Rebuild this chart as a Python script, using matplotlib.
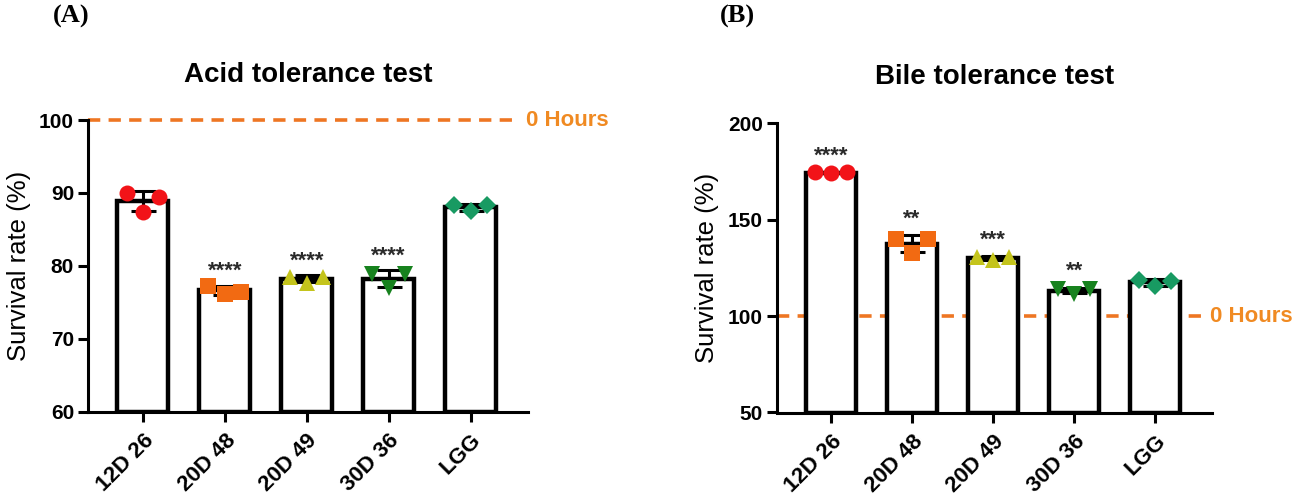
import matplotlib
matplotlib.use("Agg")
import matplotlib.pyplot as plt
import numpy as np

plt.rcParams['font.family'] = ['Liberation Sans', 'DejaVu Sans']

categories = ["12D 26", "20D 48", "20D 49", "30D 36", "LGG"]

acid_points = [
    [90.0, 87.4, 89.4],
    [77.3, 76.2, 76.4],
    [78.5, 77.7, 78.5],
    [78.9, 76.9, 78.9],
    [88.3, 87.5, 88.3],
]
acid_stars = ["", "****", "****", "****", ""]

bile_points = [
    [174.5, 174.0, 174.5],
    [140.2, 132.6, 139.8],
    [130.8, 129.2, 130.6],
    [114.2, 111.6, 114.0],
    [118.6, 115.5, 118.3],
]
bile_stars = ["****", "**", "***", "**", ""]

marker_colors = ["#F21318", "#F26A12", "#C4C41C", "#17821E", "#189A62"]
marker_shapes = ["o", "s", "^", "v", "D"]
marker_sizes = [11.5, 11, 11.5, 11.5, 9.5]
line_color = "#EE7623"
text_color = "#F08A22"

W, H = 1313, 498
fig = plt.figure(figsize=(W / 100, H / 100), dpi=100)


def make_panel(rect, points, stars, ylim, yticks, title, letter, letter_xy,
               star_offset, title_pad):
    ax = fig.add_axes(rect)
    x = np.arange(len(categories))
    means = [np.mean(p) for p in points]
    sds = [np.std(p, ddof=1) for p in points]
    ax.bar(x, [m - ylim[0] for m in means], bottom=ylim[0], width=0.62,
           color="white", edgecolor="black", linewidth=3.2, zorder=2)
    ax.errorbar(x, means, yerr=sds, fmt="none", ecolor="black",
                elinewidth=2.2, capsize=9, capthick=2.2, zorder=3)
    offs = [-0.2, 0.0, 0.2]
    for i, p in enumerate(points):
        ax.plot(x[i] + np.array(offs), p, linestyle="none",
                marker=marker_shapes[i], markersize=marker_sizes[i],
                color=marker_colors[i], markeredgewidth=0, zorder=4,
                clip_on=False)
        if stars[i]:
            top = max(max(p), means[i] + sds[i])
            ax.text(x[i], top + star_offset, stars[i], ha="center",
                    va="bottom", fontsize=16, fontweight="bold",
                    color="#2a2a2a", zorder=5)
    # 0 hours reference line
    ax.plot([-0.67, 4.56], [100, 100], color=line_color, linewidth=2.6,
            dashes=(3.4, 2.3), zorder=1, clip_on=False)
    ax.text(4.67, 100, "0 Hours", color=text_color, fontsize=16,
            fontweight="bold", ha="left", va="center", clip_on=False)
    ax.set_xlim(-0.67, 4.7)
    ax.set_ylim(*ylim)
    ax.set_yticks(yticks)
    ax.set_yticklabels([str(t) for t in yticks], fontsize=15,
                       fontweight="bold")
    ax.set_xticks(x)
    ax.set_xticklabels(categories, rotation=45, ha="right",
                       rotation_mode="anchor", fontsize=16, fontweight="bold")
    ax.spines["top"].set_visible(False)
    ax.spines["right"].set_visible(False)
    ax.spines["left"].set_linewidth(2.2)
    ax.spines["bottom"].set_linewidth(2.2)
    ax.tick_params(axis="both", direction="out", length=7, width=2.2,
                   colors="black")
    ax.tick_params(axis="x", pad=6)
    ax.tick_params(axis="y", pad=3)
    ax.set_ylabel("Survival rate (%)", fontsize=18.5, labelpad=6)
    ax.set_title(title, fontsize=20, fontweight="bold", pad=title_pad)
    fig.text(letter_xy[0] / W, 1 - letter_xy[1] / H, letter,
             family="Liberation Serif", fontweight="bold", fontsize=19,
             ha="left", va="center")
    return ax


make_panel([88 / W, (H - 411.7) / H, 440 / W, 291.7 / H],
           acid_points, acid_stars, (60, 100), [60, 70, 80, 90, 100],
           "Acid tolerance test", "(A)", (53, 16), 0.5, 27)
make_panel([776.7 / W, (H - 412.5) / H, 435.3 / W, 289.2 / H],
           bile_points, bile_stars, (50, 200), [50, 100, 150, 200],
           "Bile tolerance test", "(B)", (720, 16), 3.0, 28)

fig.savefig("out.png", dpi=100)
